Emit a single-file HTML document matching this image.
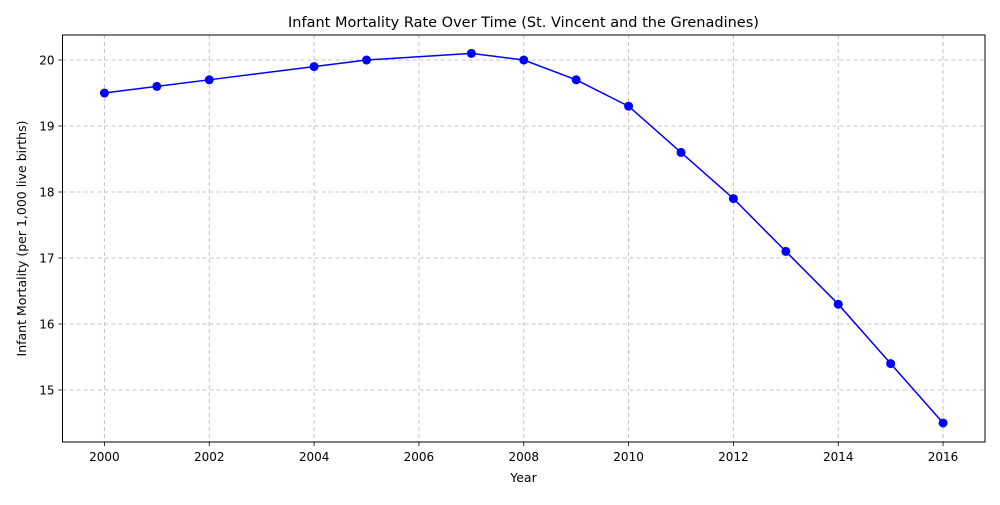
<!DOCTYPE html>
<html><head><meta charset="utf-8"><style>
body{margin:0;background:#fff;}
svg text{font-family:"DejaVu Sans","Liberation Sans",sans-serif;fill:#000;}
</style></head><body>
<svg id="chart" width="1000" height="500" xmlns="http://www.w3.org/2000/svg"></svg>
<script>
const years=[2000,2001,2002,2004,2005,2007,2008,2009,2010,2011,2012,2013,2014,2015,2016];
const values=[19.5,19.6,19.7,19.9,20.0,20.1,20.0,19.7,19.3,18.6,17.9,17.1,16.3,15.4,14.5];
const xTicks=[2000,2002,2004,2006,2008,2010,2012,2014,2016];
const yTicks=[15,16,17,18,19,20];
const L=62.5,R=985,T=35,B=442;
const X0=1999.2,X1=2016.8,Y0=14.212,Y1=20.379;
const sx=v=>L+(v-X0)/(X1-X0)*(R-L);
const sy=v=>B-(v-Y0)/(Y1-Y0)*(B-T);
const svg=document.getElementById('chart');
const NS='http://www.w3.org/2000/svg';
function mk(tag,attrs,parent){const e=document.createElementNS(NS,tag);for(const k in attrs)e.setAttribute(k,attrs[k]);(parent||svg).appendChild(e);return e;}
const grid=mk('g',{});


xTicks.forEach(t=>{const x=sx(t);
 mk('line',{x1:x,x2:x,y1:T,y2:B,stroke:'#c4c4c4','stroke-dasharray':'4,3','stroke-width':1},grid);
 mk('line',{x1:x,x2:x,y1:B,y2:B+4,stroke:'#000','stroke-width':0.8});
 const tx=mk('text',{x:x,y:B+19,'text-anchor':'middle','font-size':12});tx.textContent=t;
 
 
});
yTicks.forEach(t=>{const y=sy(t);
 mk('line',{x1:L,x2:R,y1:y,y2:y,stroke:'#c4c4c4','stroke-dasharray':'4,3','stroke-width':1},grid);
 mk('line',{x1:L-4,x2:L,y1:y,y2:y,stroke:'#000','stroke-width':0.8});
 const tx=mk('text',{x:L-8,y:y+4.5,'text-anchor':'end','font-size':12});tx.textContent=t;
 
 
});
const pts=years.map((y,i)=>sx(y)+','+sy(values[i])).join(' ');
const line=mk('polyline',{points:pts,fill:'none',stroke:'#0000ff','stroke-width':1.5});


years.forEach((y,i)=>{const c=mk('circle',{cx:sx(y),cy:sy(values[i]),r:4.5,fill:'#0000ff'});
 
 
});
const frame=mk('rect',{x:L,y:T,width:R-L,height:B-T,fill:'none',stroke:'#000','stroke-width':1});


const title=mk('text',{x:523.5,y:27,'text-anchor':'middle','font-size':14.5});
title.textContent='Infant Mortality Rate Over Time (St. Vincent and the Grenadines)';


const xt=mk('text',{x:523.5,y:482,'text-anchor':'middle','font-size':12.5});
xt.textContent='Year';


const yt=mk('text',{x:0,y:0,'text-anchor':'middle','font-size':12.5,transform:'translate(26,'+((T+B)/2)+') rotate(-90)'});
yt.textContent='Infant Mortality (per 1,000 live births)';


</script>
</body></html>
